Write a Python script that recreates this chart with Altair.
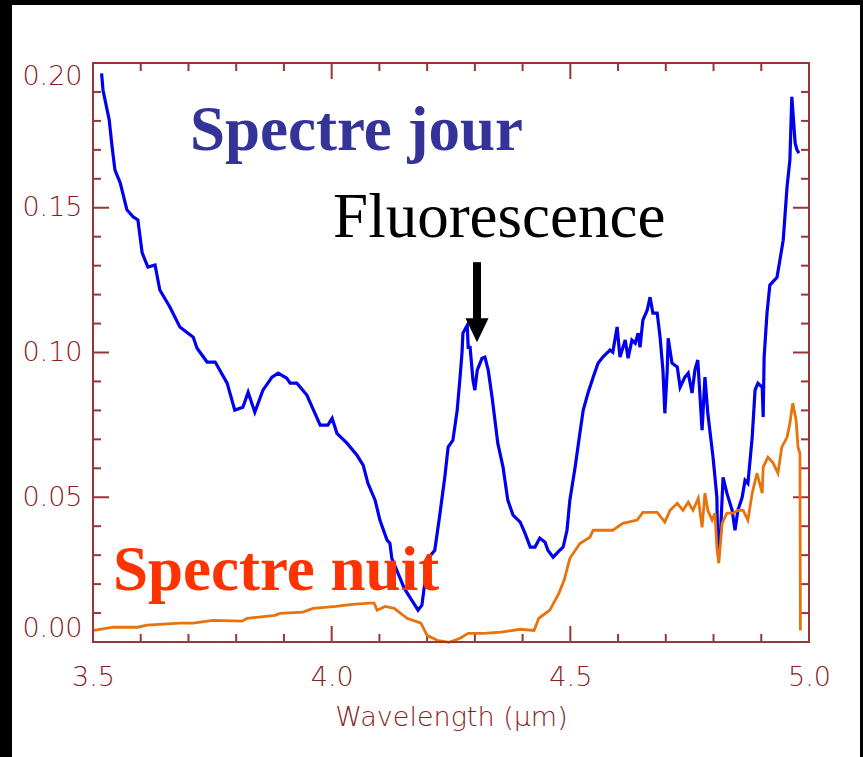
import altair as alt
import pandas as pd

# ---- data ----
BLUE_WL = [3.518, 3.521, 3.534, 3.540, 3.546, 3.557, 3.571, 3.584, 3.594, 3.603, 3.615, 3.630,
           3.640, 3.661, 3.682, 3.710, 3.718, 3.739, 3.756, 3.781, 3.797, 3.814, 3.825, 3.839,
           3.856, 3.875, 3.888, 3.906, 3.913, 3.927, 3.948, 3.976, 3.992, 4.001, 4.011, 4.032,
           4.053, 4.066, 4.076, 4.091, 4.101, 4.116, 4.122, 4.126, 4.152, 4.164, 4.181, 4.189,
           4.202, 4.216, 4.227, 4.237, 4.244, 4.254, 4.263, 4.269, 4.273, 4.275, 4.284, 4.286,
           4.290, 4.296, 4.300, 4.305, 4.315, 4.321, 4.328, 4.336, 4.342, 4.348, 4.359, 4.369,
           4.380, 4.395, 4.405, 4.416, 4.426, 4.436, 4.447, 4.453, 4.464, 4.478, 4.485, 4.493,
           4.499, 4.510, 4.520, 4.527, 4.537, 4.548, 4.558, 4.568, 4.583, 4.589, 4.598, 4.604,
           4.615, 4.621, 4.629, 4.636, 4.642, 4.646, 4.652, 4.661, 4.667, 4.673, 4.682, 4.688,
           4.694, 4.698, 4.703, 4.705, 4.713, 4.724, 4.730, 4.740, 4.747, 4.755, 4.761, 4.767,
           4.776, 4.782, 4.788, 4.799, 4.807, 4.809, 4.814, 4.820, 4.828, 4.839, 4.845, 4.851,
           4.860, 4.866, 4.872, 4.881, 4.887, 4.893, 4.902, 4.904, 4.906, 4.912, 4.918, 4.933,
           4.939, 4.946, 4.954, 4.960, 4.964, 4.966, 4.971, 4.975, 4.979]
BLUE_VAL = [0.1964, 0.1906, 0.1803, 0.1710, 0.1630, 0.1586, 0.1493, 0.1469, 0.1458, 0.1344, 0.1295, 0.1302,
            0.1216, 0.1157, 0.1088, 0.1053, 0.1015, 0.0967, 0.0967, 0.0894, 0.0801, 0.0811, 0.0863, 0.0794,
            0.0870, 0.0915, 0.0929, 0.0911, 0.0894, 0.0894, 0.0853, 0.0749, 0.0749, 0.0773, 0.0721, 0.0687,
            0.0645, 0.0611, 0.0548, 0.0490, 0.0421, 0.0352, 0.0341, 0.0289, 0.0186, 0.0154, 0.0110, 0.0127,
            0.0289, 0.0317, 0.0445, 0.0569, 0.0673, 0.0697, 0.0801, 0.0915, 0.0998, 0.1067, 0.1094, 0.1018,
            0.1018, 0.0905, 0.0870, 0.0939, 0.0980, 0.0984, 0.0939, 0.0846, 0.0767, 0.0687, 0.0604, 0.0490,
            0.0438, 0.0414, 0.0376, 0.0328, 0.0328, 0.0359, 0.0345, 0.0317, 0.0293, 0.0317, 0.0328, 0.0386,
            0.0490, 0.0604, 0.0721, 0.0801, 0.0860, 0.0915, 0.0963, 0.0984, 0.1008, 0.1001, 0.1088, 0.0984,
            0.1043, 0.0980, 0.1043, 0.1032, 0.1067, 0.1018, 0.1112, 0.1146, 0.1191, 0.1136, 0.1136, 0.1053,
            0.0939, 0.0790, 0.0939, 0.1049, 0.0963, 0.0950, 0.0880, 0.0915, 0.0929, 0.0860, 0.0939, 0.0974,
            0.0732, 0.0915, 0.0790, 0.0638, 0.0500, 0.0307, 0.0352, 0.0569, 0.0514, 0.0455, 0.0386, 0.0455,
            0.0500, 0.0559, 0.0548, 0.0707, 0.0870, 0.0894, 0.0880, 0.0777, 0.0984, 0.1136, 0.1233, 0.1260,
            0.1319, 0.1388, 0.1572, 0.1665, 0.1883, 0.1838, 0.1723, 0.1699, 0.1689]

ORANGE_WL = [3.502, 3.542, 3.594, 3.613, 3.682, 3.710, 3.751, 3.812, 3.823, 3.881, 3.892, 3.940,
             3.961, 4.009, 4.043, 4.080, 4.089, 4.095, 4.112, 4.131, 4.158, 4.187, 4.200, 4.221,
             4.246, 4.269, 4.286, 4.319, 4.355, 4.395, 4.424, 4.434, 4.457, 4.476, 4.487, 4.499,
             4.520, 4.541, 4.548, 4.568, 4.589, 4.610, 4.640, 4.652, 4.682, 4.698, 4.709, 4.724,
             4.736, 4.747, 4.757, 4.768, 4.776, 4.782, 4.788, 4.797, 4.803, 4.807, 4.811, 4.818,
             4.828, 4.841, 4.851, 4.862, 4.872, 4.881, 4.891, 4.902, 4.904, 4.914, 4.925, 4.935,
             4.943, 4.954, 4.960, 4.966, 4.973, 4.977, 4.981, 4.982]
ORANGE_VAL = [0.0040, 0.0051, 0.0051, 0.0058, 0.0065, 0.0065, 0.0075, 0.0072, 0.0082, 0.0092, 0.0099, 0.0103,
              0.0116, 0.0123, 0.0130, 0.0134, 0.0134, 0.0110, 0.0123, 0.0116, 0.0082, 0.0065, 0.0023, 0.0006,
              -0.0001, 0.0013, 0.0030, 0.0030, 0.0034, 0.0044, 0.0040, 0.0082, 0.0110, 0.0168, 0.0213, 0.0289,
              0.0340, 0.0362, 0.0386, 0.0386, 0.0386, 0.0410, 0.0421, 0.0448, 0.0448, 0.0414, 0.0455, 0.0479,
              0.0455, 0.0483, 0.0455, 0.0497, 0.0396, 0.0514, 0.0455, 0.0421, 0.0445, 0.0327, 0.0272, 0.0410,
              0.0445, 0.0445, 0.0455, 0.0455, 0.0421, 0.0514, 0.0583, 0.0514, 0.0604, 0.0638, 0.0618, 0.0583,
              0.0673, 0.0707, 0.0756, 0.0825, 0.0766, 0.0673, 0.0652, 0.0040]

X_LABELS = [3.5, 4.0, 4.5, 5.0]
Y_LABELS = [0.0, 0.05, 0.10, 0.15, 0.20]
X_MINOR = [3.6, 3.7, 3.8, 3.9, 4.1, 4.2, 4.3, 4.4, 4.6, 4.7, 4.8, 4.9]
X_MAJOR = [4.0, 4.5]
Y_MINOR = [0.01, 0.02, 0.03, 0.04, 0.06, 0.07, 0.08, 0.09, 0.11, 0.12, 0.13, 0.14,
           0.16, 0.17, 0.18, 0.19]
Y_MAJOR = [0.05, 0.10, 0.15]

ANNOT_TEXT = ["Spectre jour", "Fluorescence", "Spectre nuit"]
ANNOT_X = [3.703, 4.003, 3.542]
ANNOT_Y = [0.1699, 0.1399, 0.0179]
ANNOT_COLOR = ["#333399", "#000000", "#FF3300"]
ANNOT_WEIGHT = ["bold", "normal", "bold"]

ARROW_X = [4.3045]
ARROW_TOP = [0.1312]
ARROW_SHAFT_END = [0.1111]
ARROW_HEAD = [0.1077]

# ---- layout ----
W, H = 716, 579
PAD_L, PAD_T = 93, 63
FRAME = "#9A3535"
LABEL = "#882222"
AXFONT = "DejaVu Sans"

xs = alt.Scale(domain=[3.5, 5.0], nice=False, zero=False)
ys = alt.Scale(domain=[0.0, 0.2], nice=False, zero=False)
xax = alt.Axis(values=X_LABELS, format=".1f", ticks=False, domain=False, grid=False,
               labelFlush=False, labelPadding=22, labelFont=AXFONT, labelFontSize=27,
               labelFontWeight=200, labelColor=LABEL, titleFont=AXFONT, titleFontSize=27,
               titleFontWeight=200, titleColor=LABEL, titlePadding=14, zindex=1)
yax = alt.Axis(values=Y_LABELS, format=".2f", ticks=False, domain=False, grid=False,
               labelFlush=True, labelPadding=11, labelFont=AXFONT, labelFontSize=27,
               labelFontWeight=200, labelColor=LABEL, zindex=1)

XT = "Wavelength (µm)"


def X(f):
    return alt.X(f, type="quantitative", scale=xs, axis=xax, title=XT)


def Y(f):
    return alt.Y(f, type="quantitative", scale=ys, axis=yax, title=None)


one = pd.DataFrame({"a": [0]})
# black border bands (left, top, right) around the white page
band_left = alt.Chart(one).mark_rect(color="black").encode(
    x=alt.value(-PAD_L - 5), x2=alt.value(-PAD_L + 12), y=alt.value(-PAD_T - 5), y2=alt.value(757 - PAD_T + 5))
band_top = alt.Chart(one).mark_rect(color="black").encode(
    x=alt.value(-PAD_L - 5), x2=alt.value(863 - PAD_L + 5), y=alt.value(-PAD_T - 5), y2=alt.value(-PAD_T + 5))
band_right = alt.Chart(one).mark_rect(color="black").encode(
    x=alt.value(863 - PAD_L - 3), x2=alt.value(863 - PAD_L + 5), y=alt.value(-PAD_T - 5), y2=alt.value(757 - PAD_T + 5))

blue = alt.Chart(pd.DataFrame({"x": BLUE_WL, "y": BLUE_VAL})).mark_line(
    color="#0000EE", strokeWidth=3.2).encode(x=X("x"), y=Y("y"))
orange = alt.Chart(pd.DataFrame({"x": ORANGE_WL, "y": ORANGE_VAL})).mark_line(
    color="#E8730C", strokeWidth=2.8).encode(x=X("x"), y=Y("y"))


def xticks(vals, ln):
    d = alt.Chart(pd.DataFrame({"x": vals}))
    m = dict(color=FRAME, strokeWidth=2)
    return [d.mark_rule(**m).encode(x=X("x"), y=alt.value(H), y2=alt.value(H - ln)),
            d.mark_rule(**m).encode(x=X("x"), y=alt.value(0), y2=alt.value(ln))]


def yticks(vals, ln):
    d = alt.Chart(pd.DataFrame({"y": vals}))
    m = dict(color=FRAME, strokeWidth=2)
    return [d.mark_rule(**m).encode(y=Y("y"), x=alt.value(0), x2=alt.value(ln)),
            d.mark_rule(**m).encode(y=Y("y"), x=alt.value(W), x2=alt.value(W - ln))]


ticks = xticks(X_MINOR, 8) + xticks(X_MAJOR, 16) + yticks(Y_MINOR, 8) + yticks(Y_MAJOR, 16)

frame = alt.Chart(pd.DataFrame({"x": [3.5], "x2": [5.0], "y": [0.0], "y2": [0.2]})).mark_rect(
    filled=False, stroke=FRAME, strokeWidth=2).encode(
    x=X("x"), x2="x2", y=Y("y"), y2="y2")

texts = []
for t, tx, ty, c, w in zip(ANNOT_TEXT, ANNOT_X, ANNOT_Y, ANNOT_COLOR, ANNOT_WEIGHT):
    texts.append(alt.Chart(pd.DataFrame({"x": [tx], "y": [ty], "t": [t]})).mark_text(
        font="Liberation Serif", fontWeight=w, fontSize=63, color=c, align="left",
        baseline="alphabetic").encode(x=X("x"), y=Y("y"), text="t"))

arrow_df = pd.DataFrame({"x": ARROW_X, "y": ARROW_TOP, "y2": ARROW_SHAFT_END, "h": ARROW_HEAD})
shaft = alt.Chart(arrow_df).mark_rule(color="black", strokeWidth=8).encode(
    x=X("x"), y=Y("y"), y2="y2")
head = alt.Chart(arrow_df).mark_point(
    shape="M -0.96 -1 L 0.96 -1 L 0 1 Z", filled=True, color="black", size=576, opacity=1,
    strokeWidth=0).encode(x=X("x"), y=Y("h"))

chart = alt.layer(band_left, band_top, band_right, *ticks, blue, orange, frame, *texts,
                  shaft, head).properties(
    width=W, height=H,
    autosize=alt.AutoSizeParams(type="none"),
    padding={"left": PAD_L, "top": PAD_T, "right": 863 - PAD_L - W, "bottom": 757 - PAD_T - H},
    background="white",
).configure_view(stroke=None)

chart.save("out.html", embed_options={"renderer": "svg", "actions": False})
